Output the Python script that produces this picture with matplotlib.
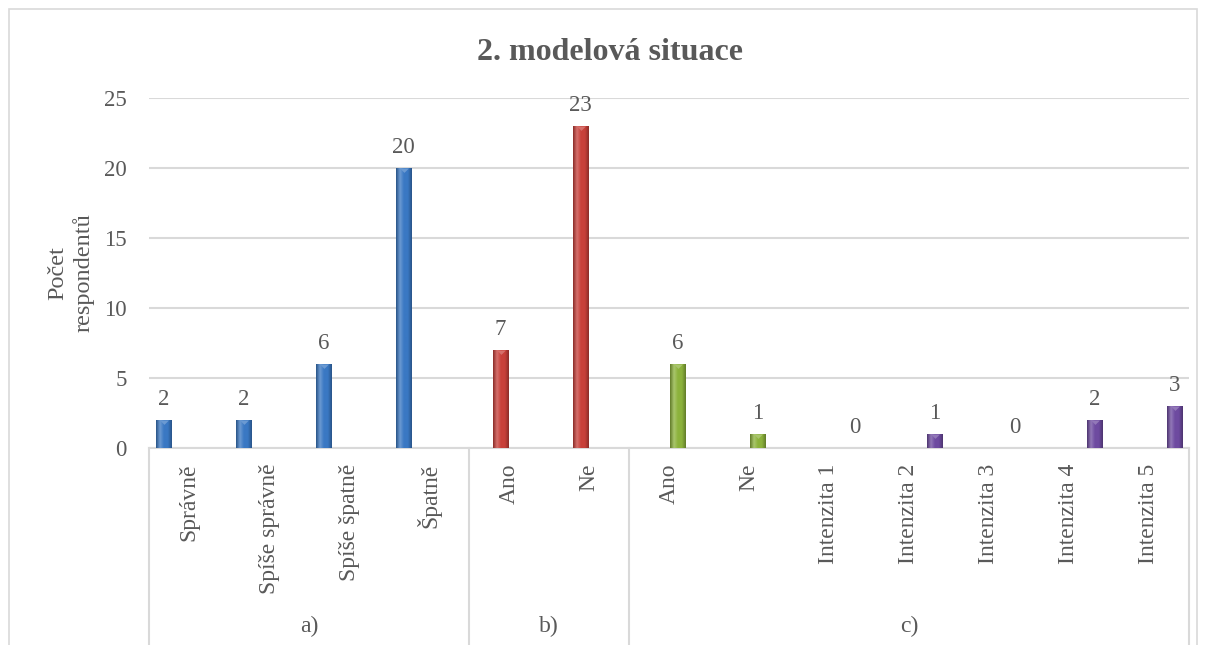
import numpy as np
import matplotlib
matplotlib.use('Agg')
import matplotlib.pyplot as plt
from matplotlib.colors import LinearSegmentedColormap, to_rgb
from matplotlib.patches import Rectangle
from matplotlib.path import Path

# Data
kategorie = ['Správně', 'Spíše správně', 'Spíše špatně', 'Špatně',
             'Ano', 'Ne',
             'Ano', 'Ne', 'Intenzita 1', 'Intenzita 2', 'Intenzita 3', 'Intenzita 4', 'Intenzita 5']
skupiny = ['a)', 'b)', 'c)']
velikost_skupin = [4, 2, 7]

# series: (category indexes, values)
serie_a = [2, 2, 6, 20]
serie_b = [7, 23]
serie_c1 = [6, 1]
serie_c2 = [0, 1, 0, 2, 3]
idx_a = [0, 1, 2, 3]
idx_b = [4, 5]
idx_c1 = [6, 7]
idx_c2 = [8, 9, 10, 11, 12]

barvy = ['#3a78c3', '#c8403a', '#8cb23c', '#6e4ba0']
serie = [(idx_a, serie_a), (idx_b, serie_b), (idx_c1, serie_c1), (idx_c2, serie_c2)]

sirka = 0.19
krok = 0.2125
sedy_text = '#595959'
plt.rcParams['font.family'] = ['Liberation Serif', 'DejaVu Serif']

fig = plt.figure(figsize=(12.08, 6.45), dpi=100)
ax = fig.add_axes([149 / 1208, 197 / 645, (1189 - 149) / 1208, 350 / 645])

# triangle marker with top edge at the data point
tri = Path([(-1, 0), (1, 0), (0, -1), (-1, 0)], [Path.MOVETO, Path.LINETO, Path.LINETO, Path.CLOSEPOLY])

for k, ((idx, vals), barva) in enumerate(zip(serie, barvy)):
    x = np.array(idx) + (k - 1.5) * krok
    v = np.array(vals)
    base = np.array(to_rgb(barva))
    tmave = base * 0.7
    svetle = np.clip(base + (1 - base) * 0.25, 0, 1)
    cmap = LinearSegmentedColormap.from_list('b%d' % k, [tmave, svetle, base, base, tmave])
    bars = ax.bar(x, v, width=sirka, color=barva, edgecolor=tmave, linewidth=0.6, zorder=3)
    grad = np.linspace(0, 1, 64).reshape(1, -1)
    for b in bars:
        if b.get_height() <= 0:
            continue
        im = ax.imshow(grad, cmap=cmap, aspect='auto', zorder=3.5,
                       extent=[b.get_x(), b.get_x() + b.get_width(), 0, b.get_height()])
        im.set_clip_path(b)
    ax.scatter(x[v > 0], v[v > 0], marker=tri, s=40, color=svetle, zorder=4, linewidths=0)
    for xi, vi in zip(x, vals):
        ax.annotate(str(vi), (xi, vi), xytext=(0, 7), textcoords='offset points',
                    ha='center', va='bottom', fontsize=16.5, color=sedy_text)

ax.set_xlim(-0.5, len(kategorie) - 0.5)
ax.set_ylim(0, 25)
ax.set_yticks([0, 5, 10, 15, 20, 25])
ax.yaxis.grid(True, color='#d9d9d9', linewidth=1.5, zorder=0)
ax.set_axisbelow(True)
for s in ['top', 'right', 'left']:
    ax.spines[s].set_visible(False)
ax.spines['bottom'].set_color('#d9d9d9')
ax.spines['bottom'].set_linewidth(1.5)
ax.tick_params(axis='y', length=0, pad=16, labelsize=16.5, labelcolor=sedy_text)
ax.set_xticks(range(len(kategorie)))
ax.set_xticklabels(kategorie, rotation=90, va='top', ha='center')
ax.tick_params(axis='x', length=0, pad=11, labelsize=17, labelcolor=sedy_text)

ax.set_ylabel('Počet\nrespondentů', fontsize=17.5, color=sedy_text, linespacing=1.3)
ax.yaxis.set_label_coords(-0.052, 0.5)

# multi-level category axis
trans = ax.get_xaxis_transform()
hranice = np.concatenate([[0], np.cumsum(velikost_skupin)]) - 0.5
for h in hranice:
    ax.plot([h, h], [0, -0.7], transform=trans, color='#d9d9d9', linewidth=1.5, clip_on=False)
for i, g in enumerate(skupiny):
    ax.text((hranice[i] + hranice[i + 1]) / 2, -0.511, g, transform=trans,
            ha='center', va='center', fontsize=17, color=sedy_text)

fig.text(0.505, 1 - 53 / 645, '2. modelová situace', ha='center', va='center',
         fontsize=23, fontweight='bold', color=sedy_text)

fig.patches.append(Rectangle((9 / 1208, -0.1), (1197 - 9) / 1208, 1.1 - 9 / 645,
                             transform=fig.transFigure, fill=False,
                             edgecolor='#d9d9d9', linewidth=1.2))

fig.savefig('out.png', dpi=100)
